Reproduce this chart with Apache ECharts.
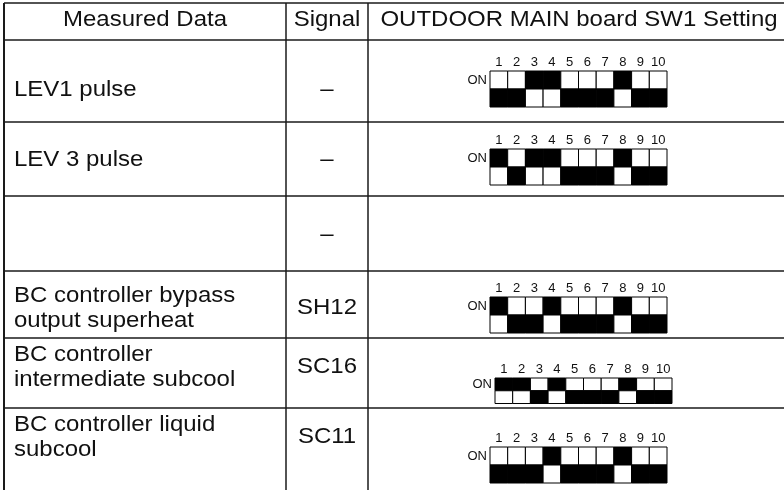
<!DOCTYPE html>
<html>
<head>
<meta charset="utf-8">
<script src="https://cdn.jsdelivr.net/npm/echarts@6/dist/echarts.min.js"></script>
<style>html,body{margin:0;padding:0;background:#fff}#c{width:784px;height:490px}</style>
</head>
<body>
<div id="c"></div>
<script>
// ---- data ----
const headers = ['Measured Data', 'Signal', 'OUTDOOR MAIN board SW1 Setting'];
const measuredData = ['LEV1 pulse', 'LEV 3 pulse', '', 'BC controller bypass\noutput superheat', 'BC controller\nintermediate subcool', 'BC controller liquid\nsubcool'];
const signals = ['–', '–', '–', 'SH12', 'SC16', 'SC11'];
const switchOn = [[3, 4, 8], [1, 3, 4, 8], null, [1, 4, 8], [1, 2, 4, 8], [4, 8]];
const switchLabels = ['1', '2', '3', '4', '5', '6', '7', '8', '9', '10'];

// ---- layout ----
const rowLines = [3, 40, 122, 196, 271, 338, 408, 494];
const colLines = [4, 286, 368, 800];
const textY = [20, 90, 160, 235, 308, 367, 437];
const switchLayout = [
  { x: 490, top: 71, h: 18, w: 17.7 },
  { x: 490, top: 149, h: 18, w: 17.7 },
  null,
  { x: 490, top: 297, h: 18, w: 17.7 },
  { x: 495, top: 378, h: 12.75, w: 17.7 },
  { x: 490, top: 447, h: 18, w: 17.7 }
];
const FONT = '"Liberation Sans", Arial, sans-serif';
const FS = 22;
const SX = 1.09;
const LINE = '#1a1a1a';

function seg(api, a, b, w) {
  const p0 = api.coord(a), p1 = api.coord(b);
  return { type: 'line', shape: { x1: p0[0], y1: p0[1], x2: p1[0], y2: p1[1] }, style: { stroke: LINE, lineWidth: w || 1.5 } };
}
function txt(api, pt, s, align, size, sx) {
  const p = api.coord(pt);
  return { type: 'text', x: p[0], y: p[1], scaleX: sx || SX, style: { text: s, fill: '#111', font: (size || FS) + 'px ' + FONT, align: align || 'center', verticalAlign: 'middle', lineHeight: 25 } };
}

function renderHeader(params, api) {
  const ch = [];
  ch.push(seg(api, [colLines[0], rowLines[0]], [colLines[3], rowLines[0]]));
  ch.push(seg(api, [colLines[0], rowLines[1]], [colLines[3], rowLines[1]]));
  ch.push(seg(api, [colLines[0], rowLines[0]], [colLines[0], rowLines[7]], 2));
  ch.push(seg(api, [colLines[1], rowLines[0]], [colLines[1], rowLines[7]]));
  ch.push(seg(api, [colLines[2], rowLines[0]], [colLines[2], rowLines[7]]));
  ch.push(txt(api, [(colLines[0] + colLines[1]) / 2, textY[0]], headers[0]));
  ch.push(txt(api, [(colLines[1] + colLines[2]) / 2, textY[0]], headers[1]));
  ch.push(txt(api, [(colLines[2] + 784) / 2 + 3, textY[0]], headers[2]));
  return { type: 'group', children: ch };
}

function renderRow(params, api) {
  const i = api.value(0);
  const bottom = rowLines[i + 2];
  const ch = [];
  ch.push(seg(api, [colLines[0], bottom], [colLines[3], bottom]));
  ch.push(txt(api, [14, textY[i + 1]], measuredData[i], 'left'));
  ch.push(txt(api, [(colLines[1] + colLines[2]) / 2, textY[i + 1]], signals[i]));
  const L = switchLayout[i];
  const on = switchOn[i];
  if (L && on) {
    ch.push(txt(api, [L.x - 3, L.top + L.h / 2], 'ON', 'right', 13, 1));
    for (let k = 0; k < switchLabels.length; k++) {
      const cx = L.x + (k + 0.5) * L.w;
      ch.push(txt(api, [cx, L.top - 9], switchLabels[k], 'center', 13, 1));
      const isOn = on.indexOf(k + 1) >= 0;
      const pTop = api.coord([L.x + k * L.w, L.top]);
      const pMid = api.coord([L.x + (k + 1) * L.w, L.top + L.h]);
      const pBot = api.coord([L.x + (k + 1) * L.w, L.top + 2 * L.h]);
      ch.push({ type: 'rect', shape: { x: pTop[0], y: pTop[1], width: pMid[0] - pTop[0], height: pMid[1] - pTop[1] },
        style: { fill: isOn ? '#000' : '#fff', stroke: '#000', lineWidth: 1 } });
      ch.push({ type: 'rect', shape: { x: pTop[0], y: pMid[1], width: pMid[0] - pTop[0], height: pBot[1] - pMid[1] },
        style: { fill: isOn ? '#fff' : '#000', stroke: '#000', lineWidth: 1 } });
    }
  }
  return { type: 'group', children: ch };
}

const chart = echarts.init(document.getElementById('c'), null, { renderer: 'canvas' });
chart.setOption({
  animation: false,
  grid: { left: 0, right: 0, top: 0, bottom: 0 },
  xAxis: { type: 'value', min: 0, max: 784, show: false },
  yAxis: { type: 'value', min: 0, max: 490, inverse: true, show: false },
  series: [
    { type: 'custom', coordinateSystem: 'cartesian2d', renderItem: renderHeader, data: [[0, 0]], silent: true, clip: false },
    { type: 'custom', coordinateSystem: 'cartesian2d', renderItem: renderRow, data: measuredData.map((d, i) => [i, 0]), silent: true, clip: false }
  ]
});
</script>
</body>
</html>
